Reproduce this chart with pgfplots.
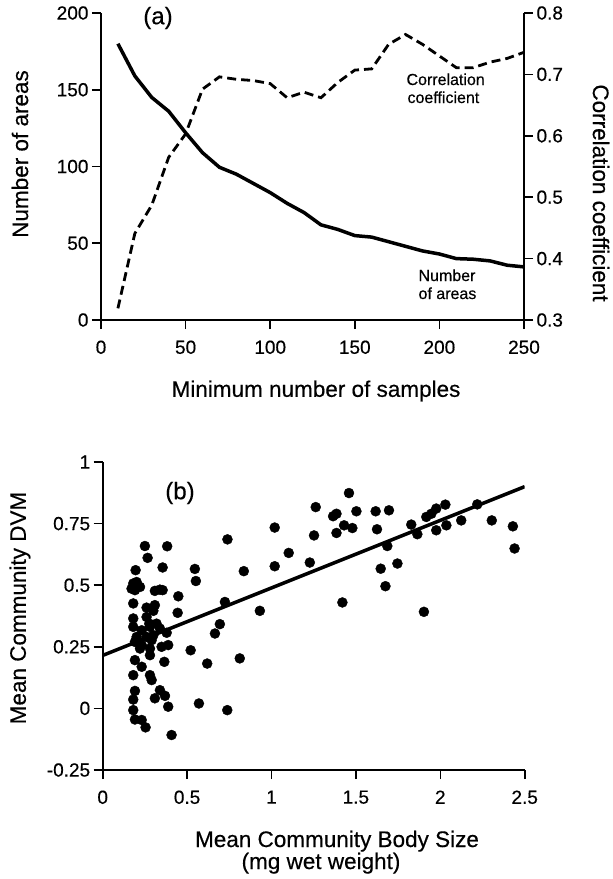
\documentclass[border=0pt]{standalone}
\usepackage{fontspec}
\setmainfont{Liberation Sans}[FakeBold=0.4]
\usepackage{pgfplots}
\pgfplotsset{compat=1.18}
\newcommand{\tfont}{\fontsize{22.5}{22.5}\selectfont}
\newcommand{\afont}{\fontsize{16}{16}\selectfont}
\pgfplotsset{
  myax/.style={scale only axis, tick align=outside, major tick length=9pt,
    axis line style={line width=1.8pt, black},
    every tick/.style={line width=1.6pt, black},
    tick label style={font=\fontsize{19}{19}\selectfont},
    xticklabel style={yshift=-8pt},
  }
}
\begin{document}
\begin{tikzpicture}
\path[use as bounding box] (0pt,0pt) rectangle (613pt,-879pt);
% ---------------- panel (a)
\begin{axis}[myax, at={(101pt,-320pt)}, anchor=south west, width=423pt, height=307pt,
  xmin=0, xmax=250, ymin=0, ymax=200,
  axis x line*=bottom, axis y line*=left,
  xtick={0,50,100,150,200,250}, xticklabels={0,50,100,150,200,250},
  ytick={0,50,100,150,200}, yticklabels={0,50,100,150,200}]
\addplot[line width=3.5pt, black] coordinates {
(10,180)(20,159)(30,145)(40,136)(50,122)(60,109)(70,99.5)(80,95)(90,89)(100,83)
(110,76)(120,70)(130,62)(140,59)(150,55)(160,54)(170,51)(180,48)(190,45)(200,43)
(210,40)(220,39.6)(230,38.5)(240,35.7)(250,34.6)};
\end{axis}
\begin{axis}[myax, at={(101pt,-320pt)}, anchor=south west, width=423pt, height=307pt,
  xmin=0, xmax=250, ymin=0.3, ymax=0.8,
  axis x line=none, axis y line*=right,
  ytick={0.3,0.4,0.5,0.6,0.7,0.8}, yticklabels={0.3,0.4,0.5,0.6,0.7,0.8}]
\addplot[line width=2.8pt, black, dash pattern=on 9pt off 5pt] coordinates {
(10,0.319)(20,0.441)(30,0.487)(40,0.565)(50,0.603)(60,0.676)(70,0.696)(80,0.692)
(90,0.690)(100,0.685)(110,0.662)(120,0.671)(130,0.662)(140,0.687)(150,0.707)
(160,0.709)(170,0.749)(180,0.765)(190,0.749)(200,0.730)(210,0.711)(220,0.711)
(230,0.720)(240,0.726)(250,0.736)};
\end{axis}
\node[font=\fontsize{24}{24}\selectfont] at (158pt,-18pt) {(a)};
\node[font=\tfont, rotate=90] at (20pt,-154pt) {Number of areas};
\node[font=\tfont, rotate=-90] at (601pt,-193pt) {Correlation coefficient};
\node[font=\tfont] at (316pt,-391pt) {Minimum number of samples};
\node[font=\afont, anchor=base west] at (403pt,-85pt) {Correlation};
\node[font=\afont, anchor=base west] at (404pt,-103pt) {coefficient};
\node[font=\afont, anchor=base west] at (415pt,-281pt) {Number};
\node[font=\afont, anchor=base west] at (415pt,-299pt) {of areas};
% ---------------- panel (b)
\begin{axis}[myax, at={(102.7pt,-770pt)}, anchor=south west, width=422pt, height=308pt,
  xmin=0, xmax=2.5, ymin=-0.25, ymax=1,
  axis x line*=bottom, axis y line*=left,
  xtick={0,0.5,1,1.5,2,2.5}, xticklabels={0,0.5,1,1.5,2,2.5},
  ytick={-0.25,0,0.25,0.5,0.75,1}, yticklabels={-0.25,0,0.25,0.5,0.75,1}]
\addplot[only marks, mark=*, mark size=5pt, black] coordinates {
(0.250,0.659)(0.382,0.658)(0.266,0.611)(0.195,0.561)(0.355,0.572)(0.546,0.566)
(0.552,0.517)(0.181,0.507)(0.201,0.513)(0.171,0.486)(0.221,0.493)(0.191,0.480)
(0.309,0.477)(0.339,0.482)(0.355,0.480)(0.448,0.455)(0.739,0.686)(0.836,0.557)
(1.019,0.734)(1.102,0.631)(1.019,0.577)(0.181,0.426)(0.260,0.409)(0.309,0.419)
(0.300,0.396)(0.444,0.388)(0.724,0.432)(0.931,0.396)(0.181,0.365)(0.260,0.371)
(0.276,0.344)(0.319,0.344)(0.339,0.324)(0.181,0.331)(0.231,0.317)(0.280,0.331)
(0.379,0.307)(0.201,0.290)(0.260,0.290)(0.300,0.297)(0.191,0.270)(0.231,0.257)
(0.290,0.277)(0.694,0.342)(0.665,0.304)(0.221,0.243)(0.280,0.243)(0.349,0.250)
(0.388,0.257)(0.521,0.236)(0.280,0.216)(0.191,0.196)(0.231,0.169)(0.365,0.189)
(0.619,0.182)(0.812,0.203)(0.181,0.135)(0.280,0.135)(0.290,0.115)(0.191,0.071)
(0.339,0.074)(0.309,0.041)(0.369,0.051)(0.181,0.036)(0.388,0.007)(0.181,-0.007)
(0.570,0.020)(0.738,-0.007)(0.191,-0.045)(0.231,-0.047)(0.254,-0.077)(0.408,-0.108)
(1.227,0.592)(1.252,0.702)(1.262,0.817)(1.365,0.780)(1.385,0.790)(1.459,0.874)
(1.503,0.800)(1.385,0.712)(1.430,0.743)(1.479,0.732)(1.420,0.430)(1.617,0.800)
(1.696,0.804)(1.625,0.727)(1.686,0.659)(1.647,0.567)(1.746,0.588)(1.675,0.496)
(1.828,0.746)(1.864,0.707)(1.917,0.777)(1.947,0.790)(1.976,0.811)(2.030,0.827)
(1.976,0.723)(2.036,0.743)(1.903,0.392)(2.124,0.763)(2.219,0.828)(2.305,0.763)
(2.430,0.739)(2.440,0.649)};
\addplot[line width=3.5pt, black] coordinates {(0,0.215)(2.5,0.90)};
\end{axis}
\node[font=\fontsize{24}{24}\selectfont] at (180pt,-493pt) {(b)};
\node[font=\tfont, rotate=90] at (20pt,-608pt) {Mean Community DVM};
\node[font=\tfont, anchor=base] at (337pt,-847pt) {Mean Community Body Size};
\node[font=\tfont, anchor=base] at (321pt,-869pt) {(mg wet weight)};
\end{tikzpicture}
\end{document}
